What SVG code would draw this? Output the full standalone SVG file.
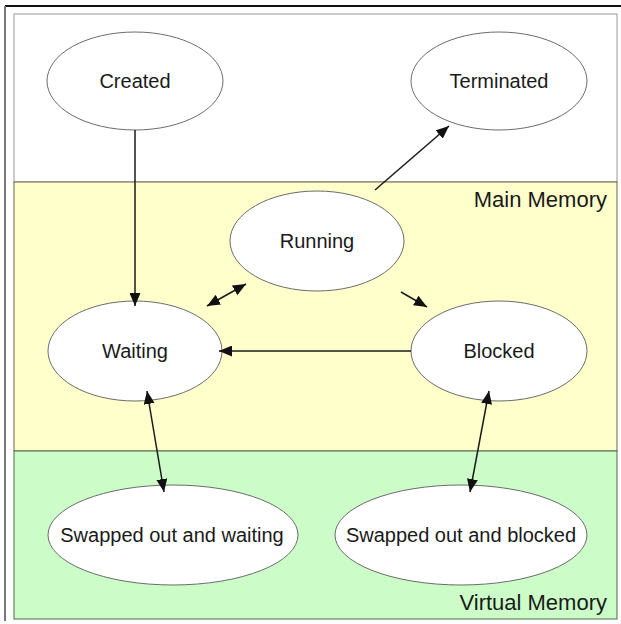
<svg xmlns="http://www.w3.org/2000/svg" width="621" height="624" viewBox="0 0 621 624">
<defs>
<style>
.node ellipse{fill:#ffffff;stroke:#6b6b6b;stroke-width:1}
.node text{font-family:"Liberation Sans",Arial,sans-serif;font-size:20px;fill:#1a1a1a;text-anchor:middle}
.zone{font-family:"Liberation Sans",Arial,sans-serif;font-size:22px;fill:#1a1a1a;text-anchor:end}
.edge{stroke:#1a1a1a;stroke-width:1.5;fill:none}
</style>
<marker id="ah" viewBox="0 0 13 11" refX="13" refY="5.5" markerWidth="13" markerHeight="11" markerUnits="userSpaceOnUse" orient="auto-start-reverse">
<path d="M0,0 L13,5.5 L0,11 z" fill="#111"/>
</marker>
</defs>
<rect x="0" y="0" width="621" height="624" fill="#ffffff"/>
<line x1="5" y1="6" x2="621" y2="6" stroke="#111" stroke-width="2"/>
<line x1="5" y1="6" x2="5" y2="621" stroke="#777" stroke-width="2"/>
<g id="zones">
<rect x="14" y="14" width="603" height="168" fill="#ffffff" stroke="#999" stroke-width="1"/>
<rect x="14" y="182" width="603" height="269" fill="#ffffcc" stroke="#66664d" stroke-width="1"/>
<rect x="14" y="451" width="603" height="168" fill="#ccfcc8" stroke="#55664d" stroke-width="1"/>
<text class="zone" x="607" y="207">Main Memory</text>
<text class="zone" x="607" y="610">Virtual Memory</text>
</g>
<g id="created" class="node"><ellipse cx="135" cy="81" rx="88" ry="49"/><text x="135" y="88">Created</text></g>
<g id="terminated" class="node"><ellipse cx="499" cy="81" rx="88" ry="49"/><text x="499" y="88">Terminated</text></g>
<g id="running" class="node"><ellipse cx="317" cy="241" rx="87" ry="50"/><text x="317" y="248">Running</text></g>
<g id="waiting" class="node"><ellipse cx="135" cy="351" rx="87" ry="50"/><text x="135" y="358">Waiting</text></g>
<g id="blocked" class="node"><ellipse cx="499" cy="351" rx="88" ry="50"/><text x="499" y="358">Blocked</text></g>
<g id="swapped-waiting" class="node"><ellipse cx="173" cy="535" rx="125" ry="50"/><text x="172" y="542">Swapped out and waiting</text></g>
<g id="swapped-blocked" class="node"><ellipse cx="461" cy="535" rx="126" ry="50"/><text x="461" y="542">Swapped out and blocked</text></g>
<g id="connectors">
<line class="edge" x1="135" y1="130" x2="135" y2="306" marker-end="url(#ah)"/>
<line class="edge" x1="375" y1="190" x2="449" y2="126" marker-end="url(#ah)"/>
<line class="edge" x1="207" y1="306" x2="246" y2="284" marker-start="url(#ah)" marker-end="url(#ah)"/>
<line class="edge" x1="401" y1="292" x2="427" y2="307" marker-end="url(#ah)"/>
<line class="edge" x1="411" y1="351" x2="219" y2="351" marker-end="url(#ah)"/>
<line class="edge" x1="147" y1="391" x2="164" y2="492" marker-start="url(#ah)" marker-end="url(#ah)"/>
<line class="edge" x1="489" y1="391" x2="470" y2="492" marker-start="url(#ah)" marker-end="url(#ah)"/>
</g>
</svg>
